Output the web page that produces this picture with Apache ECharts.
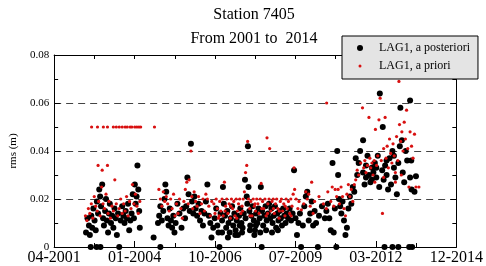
<!DOCTYPE html>
<html>
<head>
<meta charset="utf-8">
<script src="https://cdn.jsdelivr.net/npm/echarts@6/dist/echarts.min.js"></script>
<style>
html,body{margin:0;padding:0;background:#fff;}
#chart{width:486px;height:266px;}
</style>
</head>
<body>
<div id="chart"></div>
<script>
// ---- data (decimal year, rms in metres) ----
const tickLabels = ['04-2001', '01-2004', '10-2006', '07-2009', '03-2012', '12-2014'];
const seriesNames = ['LAG1, a posteriori', 'LAG1, a priori'];

const posteriori = [
  // 2002-2004
  [2002.37,0.006],[2002.42,0.012],[2002.47,0.009],[2002.5,0.005],[2002.55,0.013],[2002.58,0.008],[2002.62,0.016],[2002.66,0.011],
  [2002.7,0.007],[2002.74,0.019],[2002.78,0.014],[2002.82,0.024],[2002.85,0.021],[2002.88,0.017],[2002.92,0.026],[2002.95,0.012],
  [2002.98,0.009],[2003.02,0.015],[2003.05,0.020],[2003.08,0.011],[2003.12,0.006],[2003.15,0.014],[2003.18,0.018],[2003.22,0.010],
  [2003.26,0.013],[2003.3,0.008],[2003.34,0.016],[2003.38,0.012],[2003.42,0.005],[2003.46,0.014],[2003.55,0.011],[2003.6,0.017],
  [2003.64,0.013],[2003.68,0.010],[2003.72,0.015],[2003.76,0.012],[2003.8,0.018],[2003.84,0.007],[2003.88,0.011],[2003.92,0.014],
  [2003.96,0.022],[2004.0,0.012],[2004.03,0.026],[2004.06,0.018],[2004.09,0.021],[2004.12,0.034],[2004.15,0.024],[2004.18,0.015],
  [2004.2,0.008],[2002.53,0],[2002.73,0],[2002.86,0],[2003.5,0],[2004.67,0.004],[2004.9,0],
  // 2004-2006
  [2004.82,0.010],[2004.86,0.013],[2004.9,0.017],[2004.95,0.011],[2005.0,0.015],[2005.04,0.020],[2005.07,0.026],[2005.1,0.023],
  [2005.14,0.012],[2005.18,0.009],[2005.22,0.016],[2005.26,0.011],[2005.3,0.008],[2005.34,0.013],[2005.38,0.006],[2005.42,0.010],
  [2005.48,0.018],[2005.55,0.014],[2005.62,0.008],[2005.68,0.016],[2005.74,0.012],[2005.78,0.017],[2005.82,0.029],[2005.86,0.022],
  [2005.9,0.015],[2005.94,0.043],[2005.98,0.019],[2006.02,0.014],[2006.06,0.021],[2006.1,0.016],[2006.15,0.013],[2006.2,0.018],
  [2006.25,0.011],[2006.3,0.015],[2006.35,0.009],[2006.4,0.014],[2006.45,0.019],[2006.5,0.026],[2006.55,0.013],[2006.6,0.010],
  [2006.64,0.004],[2006.7,0.008],
  // 2006-2009
  [2006.75,0.012],[2006.8,0.016],[2006.84,0.009],[2006.88,0.006],[2006.91,0],[2006.95,0.014],[2007.0,0.011],[2007.03,0.025],
  [2007.06,0.018],[2007.1,0.013],[2007.14,0.008],[2007.18,0.015],[2007.22,0.010],[2007.26,0.006],[2007.3,0.012],[2007.34,0.017],
  [2007.38,0.009],[2007.42,0.014],[2007.46,0.007],[2007.5,0.011],[2007.54,0.005],[2007.58,0.013],[2007.62,0.016],[2007.66,0.010],
  [2007.7,0.008],[2007.74,0.014],[2007.78,0.028],[2007.8,0.012],[2007.84,0.021],[2007.86,0.018],[2007.88,0.042],[2007.9,0.025],
  [2007.93,0.015],[2007.96,0.009],[2008.0,0.013],[2008.04,0.017],[2008.08,0.011],[2008.12,0.007],[2008.16,0.014],[2008.2,0.010],
  [2008.24,0.016],[2008.28,0.012],[2008.32,0.025],[2008.35,0],[2008.36,0.015],[2008.4,0.009],[2008.44,0.013],[2008.48,0.017],
  [2008.52,0.011],[2008.56,0.014],[2008.6,0.018],[2008.64,0.012],[2008.68,0.016],[2008.72,0.010],[2008.76,0.013],[2008.8,0.017],
  [2008.84,0.008],[2008.88,0.014],[2008.92,0.011],[2008.96,0.015],[2009.0,0.012],[2009.04,0.009],[2009.08,0.016],[2009.12,0.013],
  [2009.16,0.010],[2009.2,0.014],[2009.25,0.012],[2009.3,0.016],[2009.35,0.011],[2009.4,0.014],
  [2007.2,0.004],[2007.45,0.005],[2007.68,0.006],[2008.1,0.005],[2008.3,0.006],[2008.5,0.007],[2007.0,0.006],[2008.7,0.006],
  [2008.9,0.007],[2007.6,0.009],[2007.95,0.007],[2008.15,0.009],
  // 2009-2011
  [2009.45,0.032],[2009.5,0.012],[2009.55,0.005],[2009.6,0.010],[2009.65,0.014],[2009.69,0],[2009.75,0.009],[2009.8,0.017],
  [2009.85,0.021],[2009.9,0.023],[2009.95,0.011],[2010.0,0.014],[2010.05,0.019],[2010.1,0.009],[2010.15,0.015],[2010.2,0.010],
  [2010.26,0],[2010.3,0.013],[2010.4,0.017],[2010.5,0.012],[2010.55,0.015],[2010.6,0.018],[2010.65,0.012],[2010.7,0.007],
  [2010.76,0.035],[2010.8,0.006],[2010.84,0.016],[2010.89,0],[2010.92,0.040],[2010.95,0.030],[2010.98,0.020],[2011.02,0.017],
  [2011.06,0.014],[2011.1,0.019],[2011.15,0.011],[2011.2,0.005],[2011.25,0.008],[2011.3,0.016],
  // 2011-2013
  [2011.35,0.021],[2011.4,0.018],[2011.45,0.025],[2011.5,0.023],[2011.55,0.037],[2011.6,0.030],[2011.65,0.035],[2011.7,0.040],
  [2011.8,0.0445],[2011.8,0.031],[2011.85,0.026],[2011.9,0.034],[2011.95,0.038],[2012.0,0.030],[2012.05,0.027],[2012.1,0.033],
  [2012.15,0.031],[2012.2,0.035],[2012.25,0.029],[2012.3,0.038],[2012.35,0.025],[2012.37,0.064],[2012.47,0.050],[2012.45,0.032],
  [2012.5,0.028],[2012.55,0.034],[2012.6,0.030],[2012.65,0.024],[2012.7,0.037],[2012.75,0.026],[2012.8,0.040],[2012.85,0.033],
  [2012.9,0.029],[2012.95,0.022],[2013.0,0.035],[2013.05,0.042],[2013.07,0.058],[2013.12,0.0445],[2013.15,0.031],[2013.2,0.027],
  [2013.25,0.040],[2013.3,0.036],[2013.4,0.061],[2013.4,0.029],[2013.44,0.036],[2013.45,0.024],[2013.6,0.0295],[2013.55,0.023],
  [2012.25,0.033],[2012.1,0.028],[2011.9,0.029],[2012.6,0.036],[2012.85,0.038],
  [2012.53,0],[2012.8,0],[2013.0,0],[2013.37,0],[2013.47,0]
];

const priori = [
  // 2002-2004
  [2002.35,0.013],[2002.4,0.011],[2002.45,0.016],[2002.5,0.014],[2002.55,0.018],[2002.6,0.012],[2002.65,0.021],[2002.7,0.017],
  [2002.75,0.015],[2002.78,0.034],[2002.8,0.019],[2002.85,0.013],[2002.9,0.025],[2002.92,0.032],[2002.95,0.018],[2003.0,0.016],
  [2003.05,0.022],[2003.1,0.034],[2003.12,0.014],[2003.15,0.019],[2003.2,0.012],[2003.25,0.017],[2003.3,0.015],[2003.35,0.028],
  [2003.4,0.018],[2003.45,0.013],[2003.5,0.016],[2003.55,0.020],[2003.6,0.014],[2003.65,0.018],[2003.7,0.015],[2003.75,0.021],
  [2003.8,0.013],[2003.85,0.019],[2003.9,0.016],[2003.95,0.026],[2004.0,0.018],[2004.05,0.022],[2004.1,0.017],[2004.15,0.014],
  [2004.2,0.019],
  [2002.56,0.05],[2002.76,0.05],[2002.96,0.05],[2003.1,0.05],[2003.3,0.05],[2003.4,0.05],[2003.5,0.05],[2003.6,0.05],
  [2003.7,0.05],[2003.77,0.05],[2003.87,0.05],[2003.93,0.05],[2004.03,0.05],[2004.1,0.05],[2004.17,0.05],[2004.23,0.05],
  [2004.7,0.05],
  // 2004-2006
  [2004.85,0.024],[2004.9,0.020],[2004.95,0.017],[2005.0,0.023],[2005.05,0.019],[2005.1,0.021],[2005.15,0.018],[2005.2,0.015],
  [2005.25,0.020],[2005.3,0.016],[2005.35,0.022],[2005.4,0.013],[2005.45,0.018],[2005.5,0.014],[2005.55,0.020],[2005.6,0.016],
  [2005.65,0.012],[2005.7,0.019],[2005.75,0.024],[2005.8,0.027],[2005.85,0.018],[2005.88,0.028],[2005.94,0.040],[2005.97,0.021],
  [2006.0,0.016],[2006.05,0.023],[2006.1,0.019],[2006.15,0.017],[2006.2,0.021],[2006.25,0.014],[2006.3,0.018],[2006.35,0.020],
  [2006.4,0.015],[2006.45,0.022],[2006.5,0.020],[2006.55,0.017],[2006.6,0.013],[2006.65,0.019],
  // 2006-2009
  [2006.72,0.018],[2006.76,0.014],[2006.8,0.020],[2006.84,0.016],[2006.88,0.012],[2006.92,0.019],[2006.96,0.015],[2007.0,0.020],
  [2007.04,0.013],[2007.08,0.027],[2007.12,0.017],[2007.16,0.020],[2007.2,0.014],[2007.24,0.018],[2007.28,0.012],[2007.32,0.020],
  [2007.36,0.016],[2007.4,0.019],[2007.44,0.013],[2007.48,0.020],[2007.52,0.015],[2007.56,0.018],[2007.6,0.020],[2007.64,0.014],
  [2007.68,0.017],[2007.72,0.020],[2007.76,0.023],[2007.8,0.031],[2007.84,0.034],[2007.87,0.044],[2007.9,0.020],[2007.94,0.016],
  [2007.98,0.019],[2008.02,0.013],[2008.06,0.020],[2008.1,0.017],[2008.14,0.015],[2008.18,0.020],[2008.22,0.018],[2008.26,0.014],
  [2008.3,0.020],[2008.33,0.0265],[2008.38,0.019],[2008.42,0.016],[2008.46,0.020],[2008.5,0.013],[2008.53,0.0455],[2008.56,0.018],
  [2008.6,0.020],[2008.62,0.041],[2008.66,0.015],[2008.7,0.019],[2008.74,0.020],[2008.78,0.014],[2008.82,0.018],[2008.86,0.020],
  [2008.9,0.016],[2008.94,0.012],[2008.98,0.019],[2009.02,0.020],[2009.06,0.015],[2009.1,0.018],[2009.14,0.013],[2009.18,0.020],
  [2009.22,0.016],[2009.26,0.019],[2009.3,0.014],[2009.34,0.020],[2009.38,0.017],[2009.42,0.022],
  [2006.9,0.013],[2007.1,0.015],[2007.3,0.017],[2007.5,0.012],[2007.7,0.015],[2007.95,0.013],[2008.12,0.018],[2008.35,0.016],
  [2008.55,0.014],[2008.75,0.016],[2008.95,0.015],[2009.15,0.017],[2009.35,0.013],
  // 2009-2011
  [2009.45,0.033],[2009.47,0.024],[2009.52,0.020],[2009.58,0.016],[2009.62,0.019],[2009.7,0.0155],[2009.78,0.018],[2009.85,0.023],
  [2009.9,0.020],[2009.95,0.022],[2010.0,0.017],[2010.05,0.027],[2010.1,0.014],[2010.15,0.019],[2010.3,0.021],[2010.45,0.018],
  [2010.56,0.060],[2010.55,0.016],[2010.6,0.023],[2010.7,0.019],[2010.75,0.025],[2010.8,0.017],[2010.85,0.024],[2010.9,0.021],
  [2010.95,0.024],[2011.0,0.018],[2011.05,0.025],[2011.1,0.021],[2011.15,0.016],[2011.2,0.013],[2011.25,0.022],[2011.3,0.026],
  // 2011-2013
  [2011.35,0.021],[2011.4,0.024],[2011.45,0.019],[2011.5,0.026],[2011.55,0.028],[2011.6,0.032],[2011.65,0.030],[2011.72,0.035],
  [2011.78,0.058],[2011.82,0.033],[2011.86,0.036],[2011.9,0.031],[2011.95,0.034],[2012.0,0.054],[2012.03,0.037],[2012.06,0.033],
  [2012.1,0.035],[2012.14,0.030],[2012.18,0.036],[2012.22,0.049],[2012.26,0.034],[2012.3,0.038],[2012.34,0.053],[2012.38,0.062],
  [2012.42,0.036],[2012.46,0.014],[2012.5,0.041],[2012.55,0.054],[2012.58,0.037],[2012.62,0.042],[2012.66,0.033],[2012.7,0.045],
  [2012.74,0.039],[2012.78,0.035],[2012.82,0.043],[2012.86,0.038],[2012.9,0.031],[2012.94,0.046],[2012.98,0.036],[2013.02,0.069],
  [2013.04,0.051],[2013.08,0.044],[2013.12,0.048],[2013.16,0.040],[2013.2,0.052],[2013.24,0.045],[2013.28,0.057],[2013.32,0.041],
  [2013.36,0.025],[2013.4,0.048],[2013.45,0.042],[2013.5,0.037],[2013.55,0.047],[2013.6,0.025],[2013.7,0.025],[2012.5,0.029],
  [2012.2,0.027],[2012.9,0.027],[2013.1,0.030]
];

// ---- axis: days since 2001-04-15 ----
const START_YEAR = 2001.285;
const toDays = p => [(p[0] - START_YEAR) * 365.25, p[1]];

const FONT = 'Liberation Serif';

const chart = echarts.init(document.getElementById('chart'), null, {renderer: 'canvas'});

function xAxisCfg(pos, showLabels) {
  return {
    type: 'value', position: pos, min: 0, max: 5000, interval: 1000,
    axisLine: {show: true, onZero: false, lineStyle: {color: '#000', width: 1}},
    axisTick: {show: true, inside: true, length: showLabels ? 6 : 4, lineStyle: {color: '#000'}},
    minorTick: {show: true, splitNumber: 2, length: 4, lineStyle: {color: '#000'}},
    axisLabel: showLabels ? {
      show: true, margin: 3, color: '#000', fontFamily: FONT, fontSize: 16,
      formatter: v => tickLabels[Math.round(v / 1000)] || ''
    } : {show: false},
    splitLine: {show: false}
  };
}
function yAxisCfg(pos, main) {
  return {
    type: 'value', position: pos, min: 0, max: 0.08, interval: 0.02,
    name: main ? 'rms (m)' : '', nameLocation: 'middle', nameGap: 30, nameRotate: 90,
    nameTextStyle: {color: '#000', fontFamily: FONT, fontSize: 11},
    axisLine: {show: true, onZero: false, lineStyle: {color: '#000', width: 1}},
    axisTick: {show: true, inside: true, length: 6, lineStyle: {color: '#000'}},
    minorTick: {show: true, splitNumber: 2, length: 4, lineStyle: {color: '#000'}},
    axisLabel: main ? {
      show: true, margin: 5, color: '#000', fontFamily: FONT, fontSize: 11,
      formatter: v => (v === 0 ? '0' : v.toFixed(2))
    } : {show: false},
    splitLine: main ? {show: true, lineStyle: {color: '#444', width: 1, type: [7, 5]}} : {show: false}
  };
}

const iconBig = 'path://M0,0M28,10M11,5A3,3,0,1,1,17,5A3,3,0,1,1,11,5Z';
const iconSmall = 'path://M0,0M28,10M12.5,5A1.5,1.5,0,1,1,15.5,5A1.5,1.5,0,1,1,12.5,5Z';

chart.setOption({
  animation: false,
  backgroundColor: '#fff',
  title: [
    {text: 'Station 7405', left: 254, top: 7, textAlign: 'center', padding: 0,
     textStyle: {fontFamily: FONT, fontSize: 16, fontWeight: 'normal', color: '#000'}},
    {text: 'From 2001 to  2014', left: 254, top: 31, textAlign: 'center', padding: 0,
     textStyle: {fontFamily: FONT, fontSize: 16, fontWeight: 'normal', color: '#000'}}
  ],
  legend: {
    orient: 'vertical', left: 342, top: 36,
    itemWidth: 28, itemHeight: 10, itemGap: 6,
    padding: [6, 8, 7, 4],
    backgroundColor: '#e4e4e4', borderColor: '#000', borderWidth: 1,
    textStyle: {fontFamily: FONT, fontSize: 12, color: '#000'},
    data: [{name: seriesNames[0], icon: iconBig}, {name: seriesNames[1], icon: iconSmall}]
  },
  grid: {left: 49, right: 28, top: 55, bottom: 19, containLabel: false},
  xAxis: [xAxisCfg('bottom', true), xAxisCfg('top', false)],
  yAxis: [yAxisCfg('left', true), yAxisCfg('right', false)],
  series: [
    {name: seriesNames[0], type: 'scatter', symbol: 'circle', symbolSize: 6, clip: false,
     itemStyle: {color: '#000', opacity: 1}, data: posteriori.map(toDays)},
    {name: seriesNames[1], type: 'scatter', symbol: 'circle', symbolSize: 3.2, clip: false,
     itemStyle: {color: '#d81010', opacity: 1}, data: priori.map(toDays)}
  ]
});
</script>
</body>
</html>
